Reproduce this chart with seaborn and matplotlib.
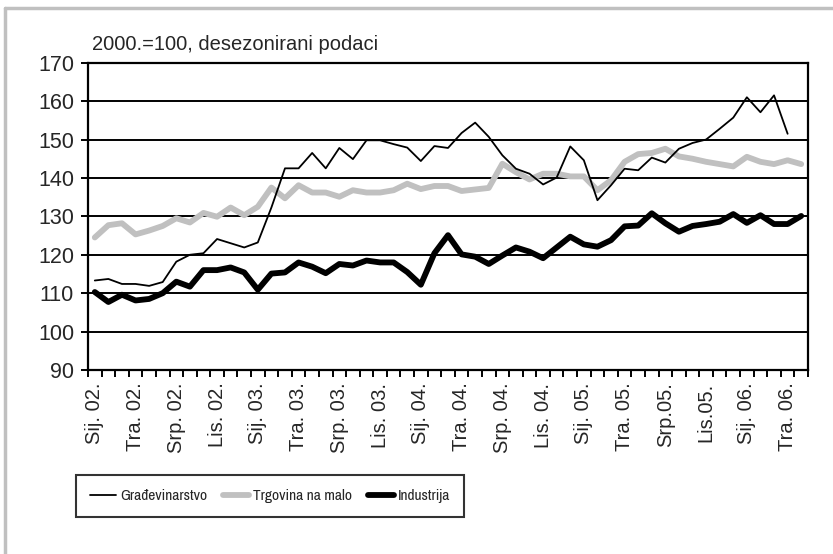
import numpy as np
import matplotlib as mpl
mpl.use('Agg')

import matplotlib.pyplot as plt
from matplotlib.lines import Line2D
from matplotlib import font_manager
import seaborn as sns

# monthly data, Sij. 02. (Jan 2002) .. Svi. 06. (May 2006), 2000 = 100, seasonally adjusted
gradjevinarstvo = [113.3, 113.7, 112.4, 112.4, 111.9, 112.9, 118.2, 120.0, 120.4, 124.1,
                   123.0, 121.9, 123.2, 132.3, 142.5, 142.5, 146.5, 142.5, 147.8, 144.9,
                   149.8, 149.8, 148.8, 147.9, 144.4, 148.3, 147.8, 151.7, 154.4, 150.7,
                   145.9, 142.4, 141.1, 138.3, 140.1, 148.2, 144.6, 134.2, 138.1, 142.4,
                   142.0, 145.3, 144.0, 147.6, 149.1, 150.0, 152.8, 155.7, 161.0, 157.1,
                   161.5, 151.5]
trgovina = [124.5, 127.7, 128.2, 125.3, 126.3, 127.5, 129.5, 128.4, 130.9, 129.9,
            132.3, 130.3, 132.5, 137.5, 134.7, 138.1, 136.2, 136.2, 135.1, 136.8,
            136.2, 136.2, 136.8, 138.5, 137.1, 137.9, 137.9, 136.6, 137.0, 137.4,
            143.7, 141.5, 139.6, 141.1, 141.1, 140.4, 140.4, 136.8, 139.4, 144.2,
            146.2, 146.5, 147.6, 145.6, 145.0, 144.2, 143.6, 143.0, 145.5, 144.2,
            143.6, 144.6, 143.6]
industrija = [110.3, 107.7, 109.6, 108.1, 108.5, 110.0, 113.0, 111.7, 116.0, 116.0,
              116.7, 115.4, 110.9, 115.1, 115.4, 118.0, 116.9, 115.2, 117.6, 117.2,
              118.5, 118.0, 118.0, 115.5, 112.2, 120.4, 125.1, 120.1, 119.5, 117.6,
              119.8, 121.9, 120.8, 119.1, 121.9, 124.7, 122.7, 122.1, 123.8, 127.4,
              127.6, 130.8, 128.2, 126.0, 127.5, 128.0, 128.6, 130.6, 128.3, 130.3,
              128.0, 128.0, 130.1]

tick_labels = ["Sij. 02.", "Tra. 02.", "Srp. 02.", "Lis. 02.",
               "Sij. 03.", "Tra. 03.", "Srp. 03.", "Lis. 03.",
               "Sij. 04.", "Tra. 04.", "Srp. 04.", "Lis. 04.",
               "Sij. 05.", "Tra. 05.", "Srp.05.", "Lis.05.",
               "Sij. 06.", "Tra. 06."]
series_names = ["Građevinarstvo", "Trgovina na malo", "Industrija"]

n_months = len(trgovina)

sns.set_style("white")
plt.rcParams['font.family'] = ['Liberation Sans', 'DejaVu Sans']

# legend in the original uses a narrow face; take one if the system has it
names = {f.name for f in font_manager.fontManager.ttflist}
if 'Liberation Sans Narrow' in names:
    leg_family = ['Liberation Sans Narrow', 'DejaVu Sans']
else:
    narrow = sorted(n for n in names if 'Narrow' in n or 'Condensed' in n)
    leg_family = (narrow[:1] or ['Liberation Sans']) + ['DejaVu Sans']
leg_prop = {'family': leg_family, 'size': 11.2}

fig = plt.figure(figsize=(8.33, 5.54), dpi=100)
ax = fig.add_axes([88/833, 1 - 370/554, 720/833, (370 - 62.7)/554])

sns.lineplot(x=np.arange(len(trgovina)), y=trgovina, ax=ax, color='#c0c0c0',
             linewidth=4.2, zorder=3, label=series_names[1])
sns.lineplot(x=np.arange(len(industrija)), y=industrija, ax=ax, color='black',
             linewidth=4.2, zorder=4, label=series_names[2])
sns.lineplot(x=np.arange(len(gradjevinarstvo)), y=gradjevinarstvo, ax=ax, color='black',
             linewidth=1.3, zorder=5, label=series_names[0])

ax.set_xlim(-0.5, n_months - 0.5)
ax.set_ylim(90, 170)
ax.set_yticks(np.arange(90, 171, 10))
ax.yaxis.grid(True, color='black', linewidth=1.4)
ax.xaxis.grid(False)
ax.tick_params(axis='y', left=True, length=5, width=1.4, color='black',
               labelsize=15.5, pad=5)

# category ticks between months, labels every quarter
ax.set_xticks(np.arange(0, n_months, 3))
ax.set_xticklabels(tick_labels, rotation=90, fontsize=14.5)
ax.set_xticks(np.arange(-0.5, n_months, 1), minor=True)
ax.tick_params(axis='x', which='major', length=0, pad=9)
ax.tick_params(axis='x', which='minor', bottom=True, length=5, width=1.4, color='black')

for s in ax.spines.values():
    s.set_color('black')
    s.set_linewidth(1.6)
ax.set_axisbelow(True)

fig.text(92/833, 1 - 44/554, "2000.=100, desezonirani podaci", fontsize=14.5,
         va='center', ha='left')

handles, labels = ax.get_legend_handles_labels()
order = [labels.index(n) for n in series_names]
ax.get_legend().remove()
leg = fig.legend([handles[i] for i in order], [labels[i] for i in order],
                 loc='center', bbox_to_anchor=(270/833, 1 - 496/554), ncol=3,
                 frameon=True, fancybox=False, edgecolor='black',
                 handlelength=1.7, handletextpad=0.25, columnspacing=1.0,
                 borderpad=0.9, prop=leg_prop)
leg.get_frame().set_linewidth(1.5)

# grey frame of the page
fig.add_artist(Line2D([5/833, 5/833], [0, 1 - 8/554], transform=fig.transFigure,
                      color='#c0c0c0', linewidth=2.5))
fig.add_artist(Line2D([5/833, 1], [1 - 8/554, 1 - 8/554], transform=fig.transFigure,
                      color='#c0c0c0', linewidth=2.5))

plt.savefig("out.png", dpi=100)
plt.close()
